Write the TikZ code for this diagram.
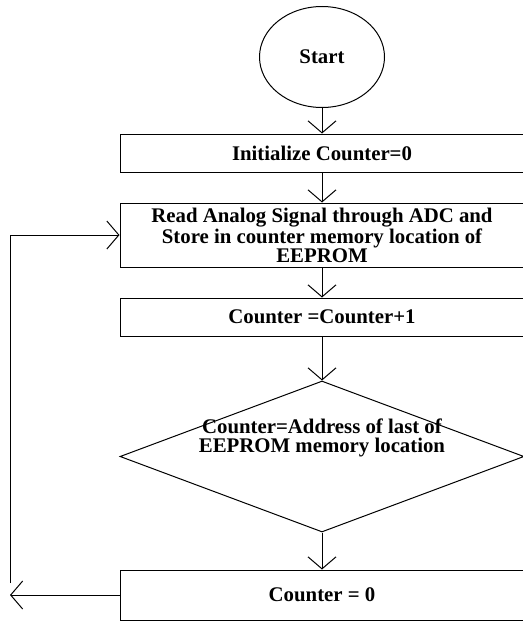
\documentclass[tikz,border=0pt]{standalone}
\usepackage{fontspec}
\setmainfont{Liberation Serif}
\usetikzlibrary{arrows.meta,shapes.geometric}
\tikzset{%
	terminal/.style = {draw, ellipse, minimum width=62.5pt, minimum height=50.5pt, inner sep=0pt, text centered},
	procbox/.style  = {draw, rectangle, minimum width=202pt, inner sep=0pt, text centered, align=center},
	testbox/.style  = {draw, diamond, minimum width=202pt, minimum height=75.5pt, inner sep=0pt},
	flow/.style     = {line width=0.5pt, -{Straight Barb[length=6pt,width=14pt]}},
}
\begin{document}
\begin{tikzpicture}[x=0.5pt, y=-0.5pt, line width=0.5pt, font=\bfseries\fontsize{10.4}{9.4}\selectfont]
	\useasboundingbox (0,0) rectangle (523,621);
	\clip (0,0) rectangle (523,621);
	
	\node[terminal] (start) at (322,57) {Start};
	\node[procbox, minimum height=19pt] (init) at (322,153) {Initialize Counter=0};
	\node[procbox, minimum height=32pt] (read) at (322,235) {Read Analog Signal through ADC and\\Store in counter memory location of\\EEPROM};
	\node[procbox, minimum height=19pt] (incr) at (322,317) {Counter =Counter+1};
	\node[testbox] (check) at (322,456.5) {};
	\node[align=center, inner sep=0pt] (checktxt) at (322,438) {Counter=Address of last of\\EEPROM memory location};
	\node[procbox, minimum height=25pt] (zero) at (322,595) {Counter = 0};
	
	\coordinate (loopend) at (10,595);
	\coordinate (loopstart) at (10,583);
	
	\draw[flow] (start) -- (init);
	\draw[flow] (init) -- (read);
	\draw[flow] (read) -- (incr);
	\draw[flow] (incr) -- (check);
	\draw[flow] (check) -- (zero);
	\draw[flow] (zero.west) -- (loopend);
	\draw[flow] (loopstart) |- (read.west);
\end{tikzpicture}
\end{document}
